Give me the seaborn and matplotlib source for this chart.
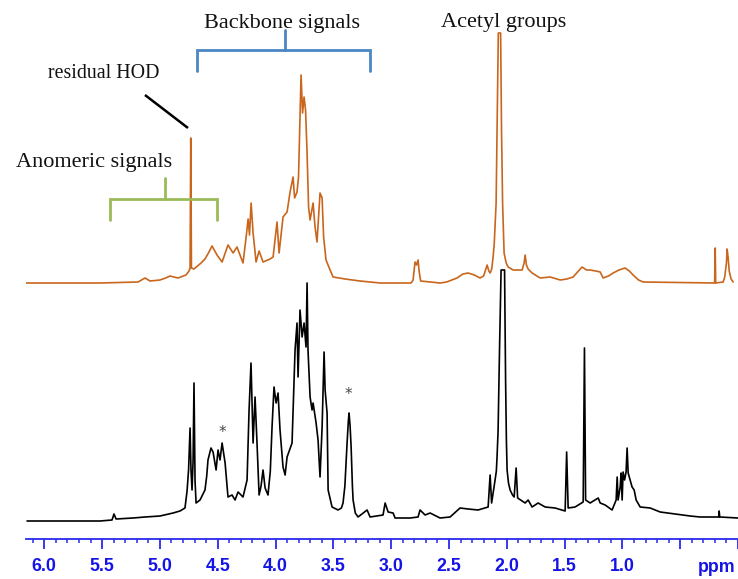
import matplotlib
matplotlib.use("Agg")
import matplotlib.pyplot as plt
import numpy as np
import pandas as pd
import seaborn as sns

# ---- 1H NMR traces (chemical shift in ppm, intensity above baseline) ----
# upper (orange) spectrum
orange_ppm = [6.158, 5.518, 5.189, 5.129, 5.085, 4.999, 4.950, 4.912, 4.880, 4.843,
              4.774, 4.748, 4.739, 4.733, 4.727, 4.705, 4.644, 4.610, 4.580, 4.549,
              4.506, 4.462, 4.411, 4.367, 4.333, 4.281, 4.255, 4.237, 4.225, 4.211,
              4.194, 4.168, 4.142, 4.108, 4.047, 4.021, 3.987, 3.969, 3.935, 3.900,
              3.874, 3.848, 3.835, 3.814, 3.801, 3.779, 3.766, 3.753, 3.740, 3.727,
              3.714, 3.701, 3.675, 3.658, 3.641, 3.615, 3.597, 3.584, 3.563, 3.528,
              3.502, 3.398, 3.269, 3.096, 2.827, 2.810, 2.802, 2.793, 2.780, 2.767,
              2.758, 2.745, 2.577, 2.520, 2.430, 2.380, 2.334, 2.280, 2.231, 2.200,
              2.170, 2.155, 2.144, 2.130, 2.118, 2.108, 2.092, 2.084, 2.073, 2.063,
              2.053, 2.045, 2.036, 2.023, 2.005, 1.988, 1.945, 1.867, 1.850, 1.841,
              1.830, 1.815, 1.781, 1.711, 1.625, 1.538, 1.480, 1.426, 1.380, 1.348,
              1.310, 1.279, 1.230, 1.192, 1.166, 1.120, 1.080, 1.030, 0.976, 0.940,
              0.907, 0.860, 0.820, 0.215, 0.202, 0.197, 0.193, 0.128, 0.115, 0.100,
              0.094, 0.085, 0.076, 0.060, 0.042]
orange_int = [0, 0, 1, 5, 2, 3, 5, 7, 6, 5,
              8, 12, 15, 145, 15, 14, 20, 24, 30, 37,
              28, 21, 38, 30, 36, 20, 45, 64, 48, 80,
              50, 21, 32, 21, 24, 26, 61, 30, 66, 71,
              91, 106, 85, 91, 106, 208, 170, 186, 173, 130,
              76, 63, 80, 56, 41, 90, 85, 46, 23, 13,
              6, 4, 2, 0, 0, 3, 12, 21, 18, 23,
              12, 2, 0, 1, 5, 9, 10, 8, 5, 7,
              18, 12, 10, 14, 26, 40, 80, 150, 250, 250,
              250, 150, 80, 30, 20, 16, 13, 13, 20, 28,
              18, 14, 10, 5, 6, 3, 4, 6, 12, 16,
              13, 13, 12, 11, 5, 7, 10, 13, 15, 12,
              8, 3, 1, 0, 0, 35, 0, 1, 6, 20,
              34, 25, 12, 4, 1]

# lower (black) spectrum
black_ppm = [6.149, 5.518, 5.414, 5.397, 5.379, 5.232, 5.129, 4.999, 4.886, 4.826,
             4.783, 4.765, 4.752, 4.739, 4.731, 4.722, 4.713, 4.705, 4.696, 4.687,
             4.653, 4.610, 4.595, 4.584, 4.558, 4.540, 4.514, 4.497, 4.480, 4.462,
             4.436, 4.411, 4.376, 4.350, 4.324, 4.281, 4.246, 4.229, 4.212, 4.194,
             4.177, 4.160, 4.142, 4.125, 4.108, 4.090, 4.065, 4.045, 4.030, 4.013,
             3.995, 3.978, 3.961, 3.935, 3.917, 3.900, 3.857, 3.845, 3.831, 3.814,
             3.805, 3.788, 3.770, 3.753, 3.736, 3.727, 3.719, 3.701, 3.684, 3.675,
             3.649, 3.632, 3.615, 3.597, 3.580, 3.571, 3.554, 3.545, 3.511, 3.459,
             3.430, 3.416, 3.400, 3.381, 3.370, 3.364, 3.355, 3.346, 3.335, 3.329,
             3.310, 3.286, 3.208, 3.182, 3.070, 3.052, 3.026, 2.983, 2.966, 2.836,
             2.767, 2.750, 2.706, 2.663, 2.577, 2.490, 2.404, 2.334, 2.248, 2.161,
             2.144, 2.131, 2.115, 2.101, 2.090, 2.084, 2.075, 2.062, 2.049, 2.019,
             2.010, 2.003, 1.997, 1.985, 1.971, 1.950, 1.936, 1.919, 1.906, 1.841,
             1.815, 1.781, 1.729, 1.668, 1.582, 1.495, 1.482, 1.469, 1.409, 1.339,
             1.328, 1.318, 1.279, 1.209, 1.192, 1.149, 1.089, 1.054, 1.045, 1.037,
             1.019, 1.011, 1.002, 0.994, 0.981, 0.968, 0.959, 0.950, 0.933, 0.916,
             0.898, 0.881, 0.846, 0.760, 0.673, 0.543, 0.414, 0.327, 0.167, 0.163,
             0.158, 0.0]
black_int = [0, 0, 1, 7, 2, 3, 4, 5, 8, 10,
             13, 30, 51, 93, 51, 31, 60, 138, 40, 18,
             21, 31, 45, 61, 73, 69, 51, 71, 61, 78,
             58, 24, 26, 21, 29, 24, 41, 110, 158, 78,
             124, 78, 26, 35, 51, 33, 26, 50, 94, 134,
             118, 128, 91, 54, 46, 64, 78, 120, 171, 198,
             144, 211, 184, 198, 174, 238, 171, 124, 111, 118,
             98, 81, 44, 94, 169, 131, 108, 31, 14, 11,
             13, 18, 35, 78, 100, 108, 95, 74, 35, 21,
             8, 4, 11, 4, 6, 18, 9, 8, 3, 3,
             4, 11, 6, 8, 3, 4, 13, 12, 11, 14,
             46, 18, 30, 41, 50, 64, 90, 175, 251, 251,
             140, 80, 51, 38, 31, 26, 24, 53, 23, 18,
             21, 14, 18, 14, 13, 10, 69, 13, 14, 19,
             173, 21, 18, 23, 18, 16, 11, 21, 44, 21,
             34, 48, 21, 49, 41, 49, 73, 48, 41, 34,
             31, 21, 14, 13, 9, 7, 5, 4, 4, 10,
             4, 3]

major_ticks = [6.0, 5.5, 5.0, 4.5, 4.0, 3.5, 3.0, 2.5, 2.0, 1.5, 1.0, 0.5, 0.0]
major_labels = ["6.0", "5.5", "5.0", "4.5", "4.0", "3.5", "3.0", "2.5", "2.0", "1.5", "1.0", "", ""]

orange_df = pd.DataFrame({"ppm": orange_ppm, "intensity": orange_int})
black_df = pd.DataFrame({"ppm": black_ppm, "intensity": black_int})

# ---- styling ----
sns.set_theme(style="white")
plt.rcParams["font.family"] = ["Liberation Serif", "DejaVu Serif"]

ORANGE = "#c9661c"
AXIS_BLUE = "#2a2aee"
LABEL_BLUE = "#1414e6"
BRACKET_BLUE = "#4a86c4"
BRACKET_GREEN = "#9bbb59"

W, H = 738, 579
fig = plt.figure(figsize=(W / 100, H / 100), dpi=100)
ax = fig.add_axes([26 / W, (H - 539) / H, (W - 26) / W, 539 / H])

black_offset = 18
orange_offset = 256

sns.lineplot(x=black_df["ppm"], y=black_df["intensity"] + black_offset, ax=ax,
             color="black", lw=1.2, sort=False, estimator=None, legend=False)
sns.lineplot(x=orange_df["ppm"], y=orange_df["intensity"] + orange_offset, ax=ax,
             color=ORANGE, lw=1.2, sort=False, estimator=None, legend=False)

ax.set_xlim(6.158, 0.0)
ax.set_ylim(0, 539)
ax.set_xlabel("")
ax.set_ylabel("")
ax.set_yticks([])
for side in ("left", "top", "right"):
    ax.spines[side].set_visible(False)
ax.spines["bottom"].set_color(AXIS_BLUE)
ax.spines["bottom"].set_linewidth(1.3)

ax.set_xticks(major_ticks)
ax.set_xticklabels(major_labels, fontfamily="Liberation Sans", fontweight="bold",
                   fontsize=12.8, color=LABEL_BLUE)
ax.set_xticks(np.round(np.arange(0.0, 6.15, 0.1), 1), minor=True)
ax.tick_params(axis="x", which="major", direction="out", length=7.2, width=1.3,
               color=AXIS_BLUE, pad=6.5, bottom=True)
ax.tick_params(axis="x", which="minor", direction="out", length=3.2, width=1.1,
               color=AXIS_BLUE, bottom=True)

fig.text(717 / W, 1 - 572 / H, "ppm", ha="center", va="baseline",
         fontfamily="Liberation Sans", fontweight="bold", fontsize=12.8, color=LABEL_BLUE)

# ---- annotations ----
big = 16
ax.text(3.943, 511, "Backbone signals", ha="center", va="baseline", fontsize=big, color="#111111")
ax.text(2.023, 512, "Acetyl groups", ha="center", va="baseline", fontsize=big, color="#111111")
ax.text(5.570, 372, "Anomeric signals", ha="center", va="baseline", fontsize=big, color="#111111")
ax.text(5.488, 461, "residual HOD", ha="center", va="baseline", fontsize=14.3, color="#111111")

# leader to the HOD line
ax.plot([5.129, 4.757], [444, 411], color="black", lw=1.8, solid_capstyle="butt")

# backbone bracket
ax.plot([4.679, 4.679, 3.182, 3.182], [468, 489, 489, 468], color=BRACKET_BLUE, lw=2.0,
        solid_joinstyle="miter")
ax.plot([3.918, 3.918], [489, 509], color=BRACKET_BLUE, lw=2.0)

# anomeric bracket
ax.plot([5.431, 5.431, 4.506, 4.506], [319, 340, 340, 319], color=BRACKET_GREEN, lw=2.0,
        solid_joinstyle="miter")
ax.plot([4.956, 4.956], [340, 361], color=BRACKET_GREEN, lw=2.0)

# asterisks marking impurity signals
ax.text(4.463, 107, "*", ha="center", va="center", fontsize=11, color="#444444",
        fontfamily="DejaVu Sans")
ax.text(3.372, 145, "*", ha="center", va="center", fontsize=11, color="#444444",
        fontfamily="DejaVu Sans")

fig.savefig("out.png", dpi=100)
